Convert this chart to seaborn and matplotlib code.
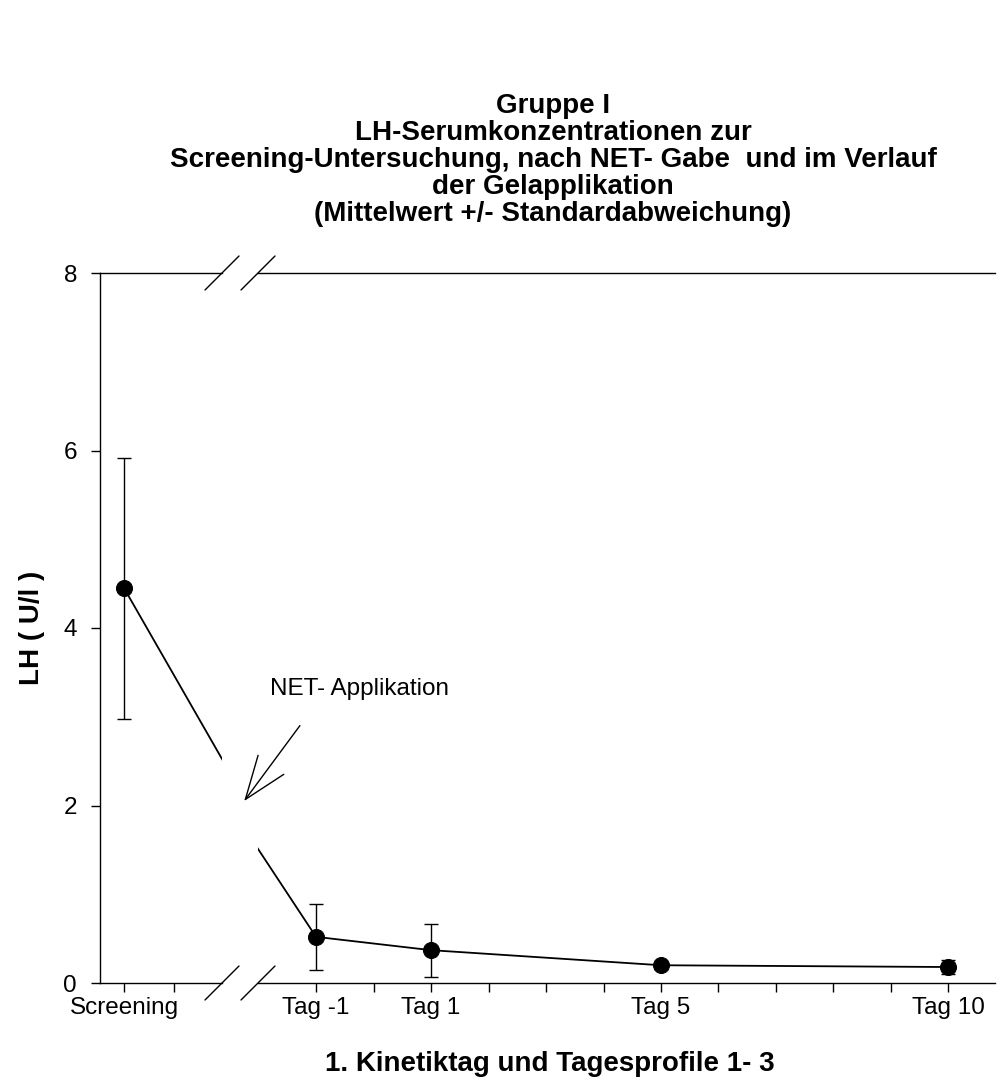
import matplotlib
matplotlib.use("Agg")
import matplotlib.pyplot as plt
import seaborn as sns
import pandas as pd
from matplotlib.lines import Line2D

# ---- data ----
days = [-5, -1, 1, 5, 10]
labels = ["Screening", "Tag -1", "Tag 1", "Tag 5", "Tag 10"]
lh_mean = [4.45, 0.52, 0.37, 0.20, 0.18]
lh_sd = [1.47, 0.37, 0.30, 0.04, 0.08]
y_ticks = [0, 2, 4, 6, 8]
title_lines = [
    "Gruppe I",
    "LH-Serumkonzentrationen zur",
    "Screening-Untersuchung, nach NET- Gabe  und im Verlauf",
    "der Gelapplikation",
    "(Mittelwert +/- Standardabweichung)",
]
x_label = "1. Kinetiktag und Tagesprofile 1- 3"
y_label = "LH ( U/l )"
annot_text = "NET- Applikation"

df = pd.DataFrame({"day": days, "lh": lh_mean, "sd": lh_sd})

sns.set_style("ticks")
plt.rcParams["font.family"] = ["Liberation Sans", "DejaVu Sans"]
plt.rcParams["text.color"] = "black"
plt.rcParams["axes.labelcolor"] = "black"
plt.rcParams["xtick.color"] = "black"
plt.rcParams["ytick.color"] = "black"
plt.rcParams["axes.edgecolor"] = "black"

W, H = 1000, 1090
fig = plt.figure(figsize=(W / 100, H / 100), dpi=100)

def px_rect(x0, y0, x1, y1):
    return [x0 / W, (H - y1) / H, (x1 - x0) / W, (y1 - y0) / H]

axL = fig.add_axes(px_rect(100, 273, 222, 983))
axR = fig.add_axes(px_rect(258, 273, 995, 983))

TICK_FS = 17.5
LABEL_FS = 20

for ax in (axL, axR):
    ax.errorbar(df["day"], df["lh"], yerr=df["sd"], fmt="none", ecolor="black",
                elinewidth=1.0, capsize=4.7, capthick=1.0, zorder=2)
    sns.lineplot(data=df, x="day", y="lh", ax=ax, color="black", lw=1.3,
                 marker="o", markersize=11.5, markeredgecolor="black",
                 markerfacecolor="black", estimator=None, sort=False,
                 errorbar=None, zorder=3)
    ax.set_ylim(0, 8)
    ax.set_xlabel("")
    ax.set_ylabel("")
    for s in ax.spines.values():
        s.set_color("black")
        s.set_linewidth(1.0)
    ax.spines["right"].set_visible(False)
    ax.tick_params(axis="x", direction="out", length=6.5, width=1.0,
                   labelsize=TICK_FS, pad=3.5, colors="black")

axL.set_xlim(-5.48, -3.04)
axR.set_xlim(-2.009, 10.809)

axL.set_xticks([-5, -4])
axL.set_xticklabels([labels[0], ""])
r_ticks = list(range(-1, 11))
lab_map = dict(zip(days, labels))
axR.set_xticks(r_ticks)
axR.set_xticklabels([lab_map.get(t, "") for t in r_ticks])

axL.set_yticks(y_ticks)
axL.set_yticklabels([str(v) for v in y_ticks])
axL.tick_params(axis="y", direction="out", length=6.5, width=1.0,
                labelsize=TICK_FS, pad=10, colors="black")
axR.spines["left"].set_visible(False)
axR.tick_params(axis="y", left=False, labelleft=False)

# break marks
d = 17
for ax, xa in ((axL, 1.0), (axR, 0.0)):
    bb = ax.get_position()
    wpx = bb.width * W
    hpx = bb.height * H
    for ya in (0.0, 1.0):
        ax.add_line(Line2D([xa - d / wpx, xa + d / wpx], [ya - d / hpx, ya + d / hpx],
                           transform=ax.transAxes, color="black", lw=1.0,
                           clip_on=False))

# annotation with arrow
axR.text(-1.80, 3.24, annot_text, fontsize=TICK_FS, ha="left", va="baseline",
         color="black")
axR.annotate("", xy=(-2.25, 2.05), xytext=(-1.28, 2.90),
             arrowprops=dict(arrowstyle="->,head_length=3.1,head_width=1.15",
                             color="black", lw=1.0, shrinkA=0, shrinkB=0,
                             mutation_scale=10),
             annotation_clip=False)

# labels and title
fig.text(0.032, (H - 628) / H, y_label, rotation=90, ha="center", va="center",
         fontsize=LABEL_FS, fontweight="bold", color="black")
fig.text(0.55, (H - 1064) / H, x_label, ha="center", va="center",
         fontsize=LABEL_FS, fontweight="bold", color="black")
baselines = [113, 140, 167, 194, 221]
for line, b in zip(title_lines, baselines):
    fig.text(0.553, (H - b) / H, line, ha="center", va="baseline",
             fontsize=LABEL_FS, fontweight="bold", color="black")

fig.savefig("out.png", dpi=100, facecolor="white")
